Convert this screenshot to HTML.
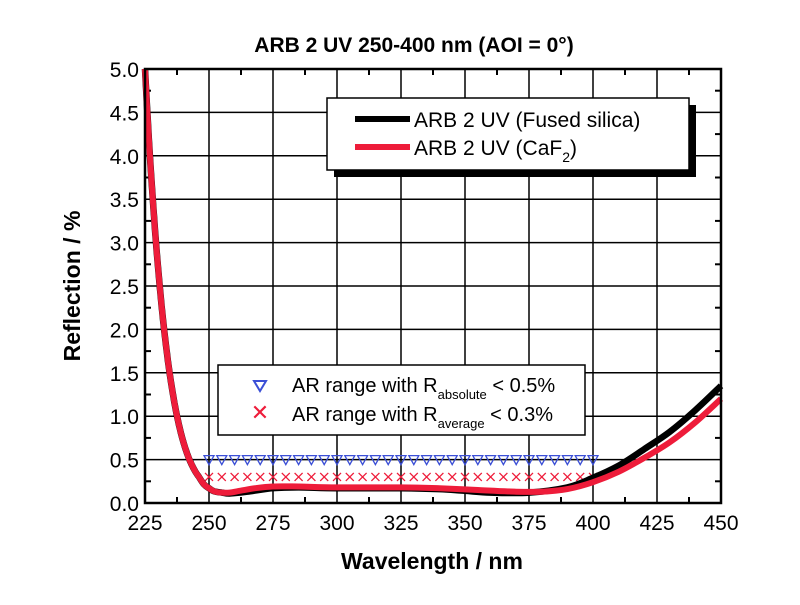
<!DOCTYPE html>
<html><head><meta charset="utf-8"><style>
body{margin:0;background:#fff;}
svg text{font-family:"Liberation Sans",Arial,sans-serif;}
</style></head><body>
<svg id="s" width="800" height="600" xmlns="http://www.w3.org/2000/svg">
<rect width="800" height="600" fill="#fff"/>
<text x="414" y="52" text-anchor="middle" font-size="21" font-weight="bold">ARB 2 UV 250-400 nm (AOI = 0°)</text>
<g id="grid" stroke="#000" stroke-width="1.5"></g>
<g id="ticks" stroke="#000" stroke-width="2"></g>
<g id="labels" font-size="21"></g>
<g id="markers"></g>
<path id="blk" fill="none" stroke="#000" stroke-width="6.5" stroke-linejoin="round"/>
<path id="red" fill="none" stroke="#ee1c3a" stroke-width="6" stroke-linejoin="round"/>
<rect x="145" y="69" width="576" height="434" fill="none" stroke="#000" stroke-width="2.5"/>
<rect x="334" y="105" width="362" height="72" fill="#000"/>
<rect x="327" y="98" width="362" height="72" fill="#fff" stroke="#000" stroke-width="1.5"/>
<line x1="355" y1="119" x2="410" y2="119" stroke="#000" stroke-width="6"/>
<line x1="355" y1="147" x2="410" y2="147" stroke="#ee1c3a" stroke-width="6"/>
<text x="414" y="127" font-size="21">ARB 2 UV (Fused silica)</text>
<text x="414" y="155" font-size="21">ARB 2 UV (CaF<tspan font-size="14" dy="7">2</tspan><tspan dy="-7">)</tspan></text>
<rect x="218" y="365" width="367" height="70" fill="#fff" stroke="#000" stroke-width="1.5"/>
<polygon points="254,381 266,381 260,391" fill="none" stroke="#3b4fd6" stroke-width="2"/>
<text x="260" y="420" font-size="22" fill="#ee1c3a" text-anchor="middle">✕</text>
<text x="292" y="392" font-size="20">AR range with R<tspan font-size="13" dy="7">absolute</tspan><tspan dy="-7"> &lt; 0.5%</tspan></text>
<text x="292" y="421" font-size="20">AR range with R<tspan font-size="13" dy="7">average</tspan><tspan dy="-7">  &lt; 0.3%</tspan></text>
<text x="432" y="569" text-anchor="middle" font-size="23" font-weight="bold">Wavelength / nm</text>
<text transform="translate(80,286) rotate(-90)" text-anchor="middle" font-size="23" font-weight="bold">Reflection / %</text>
</svg>
<script>
const X=n=>145+(n-225)*576/225, Y=r=>503-r*86.8;
const ns="http://www.w3.org/2000/svg";
function el(p,t,a,txt){const e=document.createElementNS(ns,t);for(const k in a)e.setAttribute(k,a[k]);if(txt!==undefined)e.textContent=txt;document.getElementById(p).appendChild(e);}
for(let n=250;n<450;n+=25)el('grid','line',{x1:X(n),x2:X(n),y1:69,y2:503});
for(let r=0.5;r<5;r+=0.5)el('grid','line',{x1:145,x2:721,y1:Y(r),y2:Y(r)});
for(let n=225;n<=450;n+=12.5){const L=(n-225)%25==0?0:6;if(L){el('ticks','line',{x1:X(n),x2:X(n),y1:503,y2:497});el('ticks','line',{x1:X(n),x2:X(n),y1:69,y2:75});}}
for(let r=0.25;r<5;r+=0.5){el('ticks','line',{x1:145,x2:151,y1:Y(r),y2:Y(r)});el('ticks','line',{x1:721,x2:715,y1:Y(r),y2:Y(r)});}
for(let n=225;n<=450;n+=25)el('labels','text',{x:X(n),y:530,'text-anchor':'middle'},n);
for(let r=0;r<=5.001;r+=0.5)el('labels','text',{x:139,y:Y(r)+8,'text-anchor':'end'},r.toFixed(1));
for(let n=250;n<=400;n+=5){const x=X(n);el('markers','polygon',{points:`${x-5},${Y(0.5)-4} ${x+5},${Y(0.5)-4} ${x},${Y(0.5)+5}`,fill:'none',stroke:'#3b4fd6','stroke-width':1.3});
el('markers','path',{d:`M${x-4},${Y(0.3)-4}L${x+4},${Y(0.3)+4}M${x+4},${Y(0.3)-4}L${x-4},${Y(0.3)+4}`,stroke:'#ee1c3a','stroke-width':1.3});}
const head=[];
for(let d=0;d<=21;d+=0.5){const t=8.6-0.1*d;head.push([225+d,0.11+4.89*Math.exp(-d/t)]);}
head.push([248,0.215],[250,0.17],[252,0.135],[255,0.12]);
const red=head.concat([[258,0.12],[262,0.14],[268,0.17],[275,0.19],[285,0.19],[300,0.18],[325,0.18],[340,0.17],[355,0.15],[370,0.13],[380,0.13],[390,0.16],[400,0.24],[410,0.36],[420,0.52],[430,0.7],[440,0.93],[450,1.2]]);
const blk=head.concat([[258,0.11],[265,0.13],[275,0.17],[285,0.18],[300,0.17],[325,0.17],[340,0.16],[350,0.14],[360,0.12],[375,0.12],[390,0.18],[400,0.29],[410,0.43],[420,0.62],[430,0.82],[440,1.07],[450,1.35]]);
function path(d){const P=d.map(p=>[X(p[0]),Y(p[1])]);let s='M'+P[0][0].toFixed(1)+','+P[0][1].toFixed(1);
for(let i=0;i<P.length-1;i++){const p0=P[Math.max(0,i-1)],p1=P[i],p2=P[i+1],p3=P[Math.min(P.length-1,i+2)];
const c1=[p1[0]+(p2[0]-p0[0])/6,p1[1]+(p2[1]-p0[1])/6],c2=[p2[0]-(p3[0]-p1[0])/6,p2[1]-(p3[1]-p1[1])/6];
s+=`C${c1[0].toFixed(1)},${c1[1].toFixed(1)} ${c2[0].toFixed(1)},${c2[1].toFixed(1)} ${p2[0].toFixed(1)},${p2[1].toFixed(1)}`;}return s;}
document.getElementById('blk').setAttribute('d',path(blk));
document.getElementById('red').setAttribute('d',path(red));
</script>
</body></html>
